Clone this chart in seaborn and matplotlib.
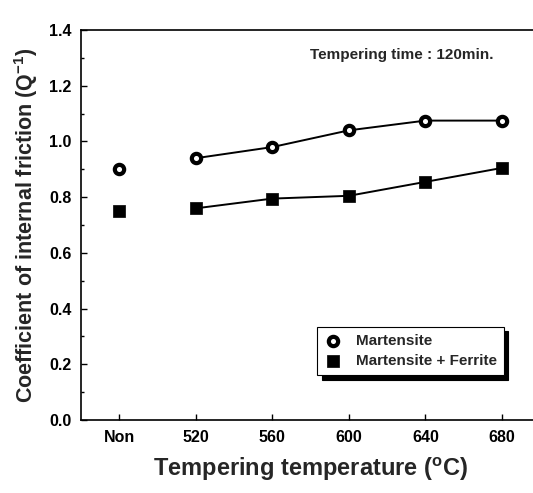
import matplotlib
matplotlib.use("Agg")
import matplotlib.pyplot as plt
import seaborn as sns
import pandas as pd
import numpy as np

categories = ["Non", "520", "560", "600", "640", "680"]
martensite = [0.90, 0.94, 0.98, 1.04, 1.075, 1.075]
mart_ferrite = [0.75, 0.76, 0.795, 0.805, 0.855, 0.905]
series_names = ["Martensite", "Martensite + Ferrite"]

sns.set_theme(style="white")
plt.rcParams['font.family'] = ['Liberation Sans', 'DejaVu Sans']
plt.rcParams['mathtext.fontset'] = 'custom'
plt.rcParams['mathtext.rm'] = 'Liberation Sans:bold'
plt.rcParams['mathtext.bf'] = 'Liberation Sans:bold'
plt.rcParams['mathtext.default'] = 'bf'

pos = np.arange(len(categories))
df = pd.DataFrame({
    "pos": np.concatenate([pos, pos]),
    "value": martensite + mart_ferrite,
    "series": [series_names[0]] * len(pos) + [series_names[1]] * len(pos),
})

fig = plt.figure(figsize=(5.33, 4.93), dpi=100)
ax = fig.add_axes([0.152, 0.148, 0.86, 0.791])

line_df = df[df["pos"] >= 1]
for name in series_names:
    sub = line_df[line_df["series"] == name]
    sns.lineplot(data=sub, x="pos", y="value", ax=ax, color="black", lw=1.4,
                 legend=False, zorder=2)

sns.scatterplot(data=df[df["series"] == series_names[0]], x="pos", y="value", ax=ax,
                marker="o", s=45, facecolor="white", edgecolor="black", linewidth=3.0,
                label=series_names[0], zorder=3)
sns.scatterplot(data=df[df["series"] == series_names[1]], x="pos", y="value", ax=ax,
                marker="s", s=70, color="black", edgecolor="black", linewidth=0.5,
                label=series_names[1], zorder=3)

ax.set_xlim(-0.5, 5.49)
ax.set_ylim(0, 1.4)
ax.set_xticks(pos)
ax.set_xticklabels(categories, fontsize=11.5, fontweight="bold")
ax.set_yticks(np.arange(0, 1.41, 0.2))
ax.set_yticklabels([f"{v:.1f}" for v in np.arange(0, 1.41, 0.2)], fontsize=11.5, fontweight="bold")
ax.set_yticks(np.arange(0.1, 1.4, 0.2), minor=True)
ax.tick_params(axis="both", which="both", direction="in", colors="black")
ax.tick_params(axis="both", which="major", length=4, width=1, pad=7)
ax.tick_params(axis="y", which="minor", length=2.5, width=1, left=True)
ax.tick_params(axis="x", which="major", bottom=True)
ax.tick_params(axis="y", which="major", left=True)

for s in ["left", "bottom", "top"]:
    ax.spines[s].set_color("black")
    ax.spines[s].set_linewidth(1.2)
ax.spines["right"].set_visible(False)

ax.set_xlabel("Tempering temperature ($^{\\rm o}$C)", fontsize=17, fontweight="bold", labelpad=8)
ax.set_ylabel("Coefficient of internal friction (Q$^{-1}$)", fontsize=15.5, fontweight="bold", labelpad=6)

ax.text(0.50, 0.935, "Tempering time : 120min.", transform=ax.transAxes,
        fontsize=11, fontweight="bold", ha="left", va="center")

leg = ax.legend(loc="lower right", bbox_to_anchor=(0.94, 0.095), frameon=True,
                shadow={"color": "black", "alpha": 1.0, "ox": 3, "oy": -3},
                fancybox=False, fontsize=11, handletextpad=0.9, borderpad=0.45,
                labelspacing=0.45, handlelength=1.2)
leg.get_frame().set_edgecolor("black")
leg.get_frame().set_linewidth(0.8)
for t in leg.get_texts():
    t.set_fontweight("bold")

fig.savefig("out.png", dpi=100)
